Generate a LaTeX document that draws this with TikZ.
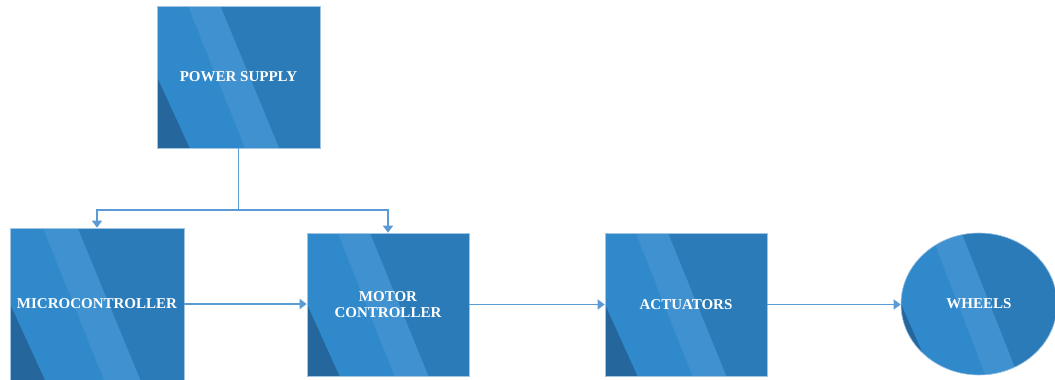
\documentclass[tikz,border=0pt]{standalone}
\usepackage{fontspec}
\setmainfont{Liberation Serif}
\usetikzlibrary{arrows.meta,calc,shapes.geometric}

\definecolor{midblue}{RGB}{48,137,202}
\definecolor{bandblue}{RGB}{64,145,207}
\definecolor{darkblue}{RGB}{43,123,185}
\definecolor{deepblue}{RGB}{37,102,156}
\definecolor{edgeblue}{RGB}{160,196,228}
\definecolor{linkblue}{RGB}{91,155,213}

\tikzset{
  glossy/.style={
    inner sep=0pt, draw=edgeblue, line width=0.6pt, fill=midblue,
    text=white, font=\fontsize{15}{16.5}\selectfont\bfseries, align=center,
    path picture={
      \coordinate (nw) at (path picture bounding box.north west);
      \coordinate (ne) at (path picture bounding box.north east);
      \coordinate (sw) at (path picture bounding box.south west);
      \coordinate (se) at (path picture bounding box.south east);
      % light diagonal band
      \fill[bandblue] ($(nw)!0.19!(ne)$) -- ($(nw)!0.39!(ne)$)
        -- ($(sw)!0.75!(se)$) -- ($(sw)!0.54!(se)$) -- cycle;
      % darker right part
      \fill[darkblue] ($(nw)!0.39!(ne)$) -- (ne) -- (se)
        -- ($(sw)!0.75!(se)$) -- cycle;
      % shaded lower-left corner
      \fill[deepblue] ($(nw)!0.5!(sw)$) -- ($(sw)!0.2!(se)$) -- (sw) -- cycle;
    }
  },
  blockbox/.style={glossy, rectangle},
  roundbox/.style={glossy, ellipse},
  link/.style={draw=linkblue, line width=1.5pt},
  arrowlink/.style={link, -{Triangle[length=7pt,width=10pt]}}
}

\begin{document}
\begin{tikzpicture}[x=1pt,y=-1pt]
  \useasboundingbox (0,0) rectangle (1055,380);

  \node[blockbox, minimum width=163pt, minimum height=142pt] (ps) at (238.5,77) {POWER SUPPLY};
  \node[blockbox, minimum width=174pt, minimum height=152pt] (mc) at (97,304) {MICROCONTROLLER};
  \node[blockbox, minimum width=162pt, minimum height=143pt] (motor) at (388,304.5) {MOTOR\\CONTROLLER};
  \node[blockbox, minimum width=162pt, minimum height=143pt] (act) at (686,304.5) {ACTUATORS};
  \node[roundbox, minimum width=156pt, minimum height=142pt] (wh) at (979,304) {WHEELS};

  \coordinate (split) at (238.5,210);
  \draw[link] (ps.south) -- (split);
  \draw[arrowlink] (split) -| (mc.north);
  \draw[arrowlink] (split) -| (motor.north);

  \draw[arrowlink] (mc.east) -- (mc.east -| motor.west);
  \draw[arrowlink] (motor.east) -- (motor.east -| act.west);
  \draw[arrowlink] (act.east) -- (act.east -| wh.west);
\end{tikzpicture}
\end{document}
